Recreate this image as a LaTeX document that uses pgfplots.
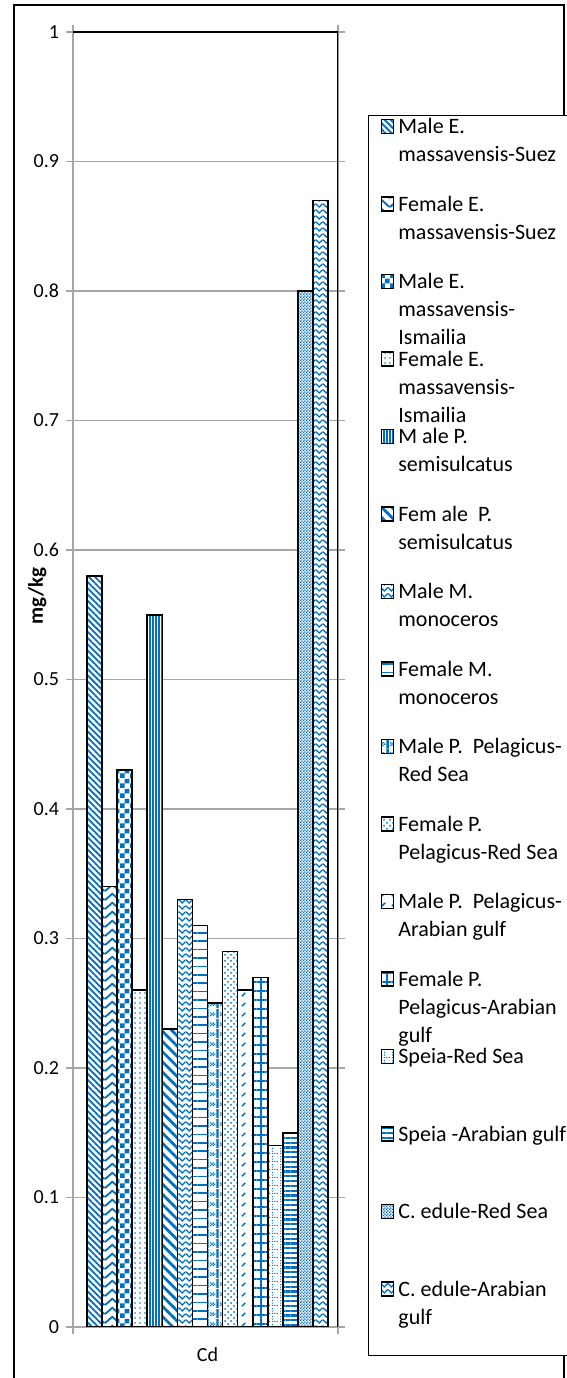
\documentclass[border=0pt]{standalone}
\usepackage{fontspec}
\setmainfont{Carlito}
\usepackage{pgfplots}
\pgfplotsset{compat=1.18}
\usetikzlibrary{patterns,patterns.meta}
\definecolor{myblue}{RGB}{0,112,192}

\pgfdeclarepatternformonly{zigA}{\pgfqpoint{0pt}{0pt}}{\pgfqpoint{7.5pt}{4.5pt}}{\pgfqpoint{7.5pt}{4.5pt}}{%
  \pgfsetlinewidth{1pt}%
  \pgfpathmoveto{\pgfqpoint{0pt}{0.5pt}}%
  \pgfpathlineto{\pgfqpoint{3.75pt}{4pt}}%
  \pgfpathlineto{\pgfqpoint{7.5pt}{0.5pt}}%
  \pgfusepath{stroke}}
\pgfdeclarepatternformonly{zigB}{\pgfqpoint{0pt}{0pt}}{\pgfqpoint{3.6pt}{3pt}}{\pgfqpoint{3.6pt}{3pt}}{%
  \pgfsetlinewidth{0.7pt}%
  \pgfpathmoveto{\pgfqpoint{0pt}{2.5pt}}%
  \pgfpathlineto{\pgfqpoint{1.8pt}{0.6pt}}%
  \pgfpathlineto{\pgfqpoint{3.6pt}{2.5pt}}%
  \pgfusepath{stroke}}
\pgfdeclarepatternformonly{checkL}{\pgfqpoint{0pt}{0pt}}{\pgfqpoint{5pt}{5pt}}{\pgfqpoint{5pt}{5pt}}{%
  \pgfpathrectangle{\pgfqpoint{0pt}{0pt}}{\pgfqpoint{2.5pt}{2.5pt}}%
  \pgfpathrectangle{\pgfqpoint{2.5pt}{2.5pt}}{\pgfqpoint{2.5pt}{2.5pt}}%
  \pgfusepath{fill}}
\pgfdeclarepatternformonly{checkS}{\pgfqpoint{0pt}{0pt}}{\pgfqpoint{1.6pt}{1.6pt}}{\pgfqpoint{1.6pt}{1.6pt}}{%
  \pgfpathrectangle{\pgfqpoint{0pt}{0pt}}{\pgfqpoint{0.8pt}{0.8pt}}%
  \pgfpathrectangle{\pgfqpoint{0.8pt}{0.8pt}}{\pgfqpoint{0.8pt}{0.8pt}}%
  \pgfusepath{fill}}
\pgfdeclarepatternformonly{dashdiag}{\pgfqpoint{0pt}{0pt}}{\pgfqpoint{5pt}{5pt}}{\pgfqpoint{5pt}{5pt}}{%
  \pgfsetlinewidth{0.8pt}%
  \pgfpathmoveto{\pgfqpoint{1pt}{1pt}}%
  \pgfpathlineto{\pgfqpoint{2.8pt}{2.8pt}}%
  \pgfusepath{stroke}}
\pgfdeclarepatternformonly{dotgrid}{\pgfqpoint{0pt}{0pt}}{\pgfqpoint{4pt}{4pt}}{\pgfqpoint{4pt}{4pt}}{%
  \pgfpathrectangle{\pgfqpoint{0pt}{0pt}}{\pgfqpoint{0.6pt}{0.6pt}}%
  \pgfpathrectangle{\pgfqpoint{1.33pt}{0pt}}{\pgfqpoint{0.6pt}{0.6pt}}%
  \pgfpathrectangle{\pgfqpoint{2.67pt}{0pt}}{\pgfqpoint{0.6pt}{0.6pt}}%
  \pgfpathrectangle{\pgfqpoint{0pt}{1.33pt}}{\pgfqpoint{0.6pt}{0.6pt}}%
  \pgfpathrectangle{\pgfqpoint{0pt}{2.67pt}}{\pgfqpoint{0.6pt}{0.6pt}}%
  \pgfusepath{fill}}
\pgfdeclarepatternformonly{weave}{\pgfqpoint{0pt}{0pt}}{\pgfqpoint{5pt}{5pt}}{\pgfqpoint{5pt}{5pt}}{%
  \pgfpathrectangle{\pgfqpoint{3.4pt}{0pt}}{\pgfqpoint{1.2pt}{5pt}}%
  \pgfpathrectangle{\pgfqpoint{0pt}{1pt}}{\pgfqpoint{0.7pt}{0.7pt}}%
  \pgfpathrectangle{\pgfqpoint{1.4pt}{1pt}}{\pgfqpoint{0.7pt}{0.7pt}}%
  \pgfpathrectangle{\pgfqpoint{0.7pt}{1.7pt}}{\pgfqpoint{0.7pt}{0.7pt}}%
  \pgfpathrectangle{\pgfqpoint{2.1pt}{1.7pt}}{\pgfqpoint{0.7pt}{0.7pt}}%
  \pgfpathrectangle{\pgfqpoint{0pt}{2.4pt}}{\pgfqpoint{0.7pt}{0.7pt}}%
  \pgfpathrectangle{\pgfqpoint{1.4pt}{2.4pt}}{\pgfqpoint{0.7pt}{0.7pt}}%
  \pgfusepath{fill}}

\tikzset{
  barbase/.style={fill=white, draw=black, line width=0.8pt},
  p1/.style={barbase, postaction={pattern color=myblue, pattern={Lines[angle=-45,distance=2.2pt,line width=0.9pt]}}},
  p2/.style={barbase, postaction={pattern color=myblue, pattern=zigA}},
  p3/.style={barbase, postaction={pattern color=myblue, pattern=checkL}},
  p4/.style={barbase, postaction={pattern color=myblue, pattern={Dots[distance=2.5pt,radius=0.45pt]}}},
  p5/.style={barbase, postaction={pattern color=myblue, pattern={Lines[angle=90,distance=1.5pt,line width=0.6pt]}}},
  p6/.style={barbase, postaction={pattern color=myblue, pattern={Lines[angle=-45,distance=3.6pt,line width=1.4pt]}}},
  p7/.style={barbase, postaction={pattern color=myblue, pattern=zigB}},
  p8/.style={barbase, postaction={pattern color=myblue, pattern={Lines[angle=0,distance=4.2pt,line width=0.8pt]}}},
  p9/.style={barbase, postaction={pattern color=myblue, pattern=weave}},
  p10/.style={barbase, postaction={pattern color=myblue, pattern=crosshatch dots}},
  p11/.style={barbase, postaction={pattern color=myblue, pattern=dashdiag}},
  p12/.style={barbase, postaction={pattern color=myblue, pattern={Hatch[angle=0,distance=4.5pt,line width=0.7pt]}}},
  p13/.style={barbase, postaction={pattern color=myblue, pattern=dotgrid}},
  p14/.style={barbase, postaction={pattern color=myblue, pattern={Lines[angle=0,distance=2.4pt,line width=1.1pt]}}},
  p15/.style={barbase, postaction={pattern color=myblue, pattern=checkS}},
  p16/.style={barbase, postaction={pattern color=myblue, pattern=zigB}},
}
\pgfplotsset{myleg/.style={bar shift=0pt, legend image code/.code={%
  \pgfpathmoveto{\pgfqpoint{0pt}{-19.375pt}}%
  \pgfpathlineto{\pgfqpoint{0pt}{19.375pt}}%
  \pgfusepath{}%
  \draw[##1] (0.4pt,10.375pt) rectangle (6.5pt,17.375pt);
}}}
\newcommand{\lgd}[1]{\makebox[80pt][l]{\smash{\begin{tabular}[t]{@{}l@{}}#1\end{tabular}}}\rule[-29.75pt]{0pt}{38.75pt}}

\begin{document}
\begin{tikzpicture}
\useasboundingbox (0,0) rectangle (283.5pt,689pt);
\draw[line width=1.4pt] (7pt,-5pt) -- (7pt,686.5pt) -- (282pt,686.5pt) -- (282pt,-5pt);
\begin{axis}[
  at={(36.5pt,25.5pt)}, anchor=south west,
  scale only axis, width=132.5pt, height=647.5pt,
  xmin=-1.43, xmax=16.16, ymin=0, ymax=1,
  ybar, bar width=1, bar shift=0pt,
  ytick={0,0.1,0.2,0.3,0.4,0.5,0.6,0.7,0.8,0.9,1},
  yticklabels={0,0.1,0.2,0.3,0.4,0.5,0.6,0.7,0.8,0.9,1},
  xtick={-1.43,16.16}, xticklabels={},
  extra x ticks={7.5}, extra x tick labels={Cd},
  extra x tick style={major tick length=0pt},
  xticklabel style={yshift=-7pt},
  tick align=outside, major tick length=3.5pt,
  tick style={gray!70, line width=0.75pt},
  axis line style={gray!70, line width=0.75pt},
  ymajorgrids, grid style={gray!70, line width=0.75pt},
  tick label style={font=\fontsize{10}{12}\selectfont, text=black},
  ylabel={mg/kg},
  ylabel style={font=\fontsize{10.5}{12}\selectfont\bfseries, at={(axis description cs:-0.135,0.5645)}, anchor=center},
  legend cell align=left,
  legend style={at={(1.1132,0.9359)}, anchor=north west, draw=black, line width=0.6pt, fill=white,
    inner xsep=6pt, inner ysep=0pt, row sep=0pt, column sep=2pt,
    nodes={inner sep=0pt, text depth=, text height=},
    cells={anchor=west},
    font=\fontsize{11}{14}\selectfont},
]
\addplot[p1,myleg] coordinates {(0,0.58)};
\addlegendentry{\lgd{Male E.\\massavensis-Suez}}
\addplot[p2,myleg] coordinates {(1,0.34)};
\addlegendentry{\lgd{Female E.\\massavensis-Suez}}
\addplot[p3,myleg] coordinates {(2,0.43)};
\addlegendentry{\lgd{Male E.\\massavensis-\\Ismailia}}
\addplot[p4,myleg] coordinates {(3,0.26)};
\addlegendentry{\lgd{Female E.\\massavensis-\\Ismailia}}
\addplot[p5,myleg] coordinates {(4,0.55)};
\addlegendentry{\lgd{M ale P.\\semisulcatus}}
\addplot[p6,myleg] coordinates {(5,0.23)};
\addlegendentry{\lgd{Fem ale\ \ P.\\semisulcatus}}
\addplot[p7,myleg] coordinates {(6,0.33)};
\addlegendentry{\lgd{Male M.\\monoceros}}
\addplot[p8,myleg] coordinates {(7,0.31)};
\addlegendentry{\lgd{Female M.\\monoceros}}
\addplot[p9,myleg] coordinates {(8,0.25)};
\addlegendentry{\lgd{Male P.\ \ Pelagicus-\\Red Sea}}
\addplot[p10,myleg] coordinates {(9,0.29)};
\addlegendentry{\lgd{Female P.\\Pelagicus-Red Sea}}
\addplot[p11,myleg] coordinates {(10,0.26)};
\addlegendentry{\lgd{Male P.\ \ Pelagicus-\\Arabian gulf}}
\addplot[p12,myleg] coordinates {(11,0.27)};
\addlegendentry{\lgd{Female P.\\Pelagicus-Arabian\\gulf}}
\addplot[p13,myleg] coordinates {(12,0.14)};
\addlegendentry{\lgd{Speia-Red Sea}}
\addplot[p14,myleg] coordinates {(13,0.15)};
\addlegendentry{\lgd{Speia -Arabian gulf}}
\addplot[p15,myleg] coordinates {(14,0.80)};
\addlegendentry{\lgd{C. edule-Red Sea}}
\addplot[p16,myleg] coordinates {(15,0.87)};
\addlegendentry{\lgd{C. edule-Arabian\\gulf}}
\draw[black, line width=0.9pt] (rel axis cs:0,1) -- (rel axis cs:1,1) -- (rel axis cs:1,0);
\end{axis}
\end{tikzpicture}
\end{document}
